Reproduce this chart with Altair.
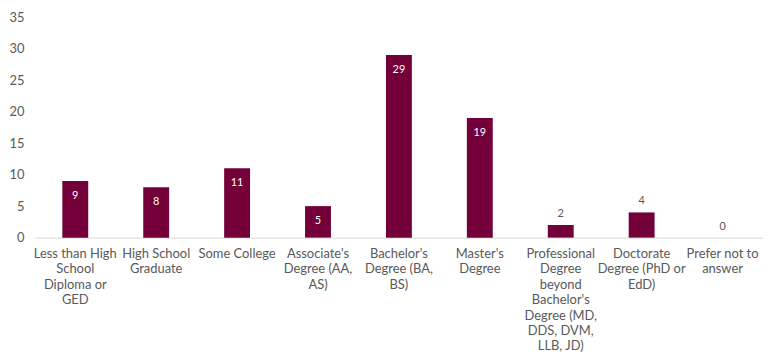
import altair as alt
import pandas as pd

categories = [
    "Less than High School Diploma or GED",
    "High School Graduate",
    "Some College",
    "Associate's Degree (AA, AS)",
    "Bachelor's Degree (BA, BS)",
    "Master's Degree",
    "Professional Degree beyond Bachelor's Degree (MD, DDS, DVM, LLB, JD)",
    "Doctorate Degree (PhD or EdD)",
    "Prefer not to answer",
]
label_lines = [
    "Less than High|School|Diploma or|GED",
    "High School|Graduate",
    "Some College",
    "Associate's|Degree (AA,|AS)",
    "Bachelor's|Degree (BA,|BS)",
    "Master's|Degree",
    "Professional|Degree|beyond|Bachelor's|Degree (MD,|DDS, DVM,|LLB, JD)",
    "Doctorate|Degree (PhD or|EdD)",
    "Prefer not to|answer",
]
values = [9, 8, 11, 5, 29, 19, 2, 4, 0]

df = pd.DataFrame({"cat": categories, "lab": label_lines, "value": values})
label_map = dict(zip(categories, label_lines))
expr = "split({" + ",".join(
    f'"{k}": "{v}"' for k, v in label_map.items()
) + "}[datum.label], '|')"

FONT = "Lato"
GREY = "#595959"
COLOR = "#730038"

x = alt.X(
    "cat:N",
    sort=categories,
    title=None,
    scale=alt.Scale(paddingInner=0.68, paddingOuter=0.34),
    axis=alt.Axis(
        labelAngle=0,
        labelExpr=expr,
        labelFont=FONT,
        labelFontSize=13,
        labelColor=GREY,
        labelLineHeight=15.5,
        labelPadding=10,
        labelBaseline="top",
        ticks=False,
        domainColor="#d9d9d9",
        labelLimit=200,
    ),
)
y = alt.Y(
    "value:Q",
    title=None,
    scale=alt.Scale(domain=[0, 35]),
    axis=alt.Axis(
        values=[0, 5, 10, 15, 20, 25, 30, 35],
        grid=False,
        domain=False,
        ticks=False,
        labelFont=FONT,
        labelFontSize=13,
        labelColor=GREY,
        labelPadding=11,
    ),
)

base = alt.Chart(df)
bars = base.mark_bar(color=COLOR).encode(x=x, y=y)
inside = base.transform_filter("datum.value >= 5").mark_text(
    color="white", baseline="middle", dy=15, font=FONT, fontSize=11
).encode(x=x, y=y, text="value:Q")
outside = base.transform_filter("datum.value < 5").mark_text(
    color=GREY, baseline="bottom", dy=-6, font=FONT, fontSize=11
).encode(x=x, y=y, text="value:Q")

chart = (bars + inside + outside).properties(
    width=733, height=222, padding={"left": 0, "top": 2, "right": 0, "bottom": 0}
).configure_view(stroke=None)

chart.save("out.html", embed_options={"renderer": "svg", "actions": False})
